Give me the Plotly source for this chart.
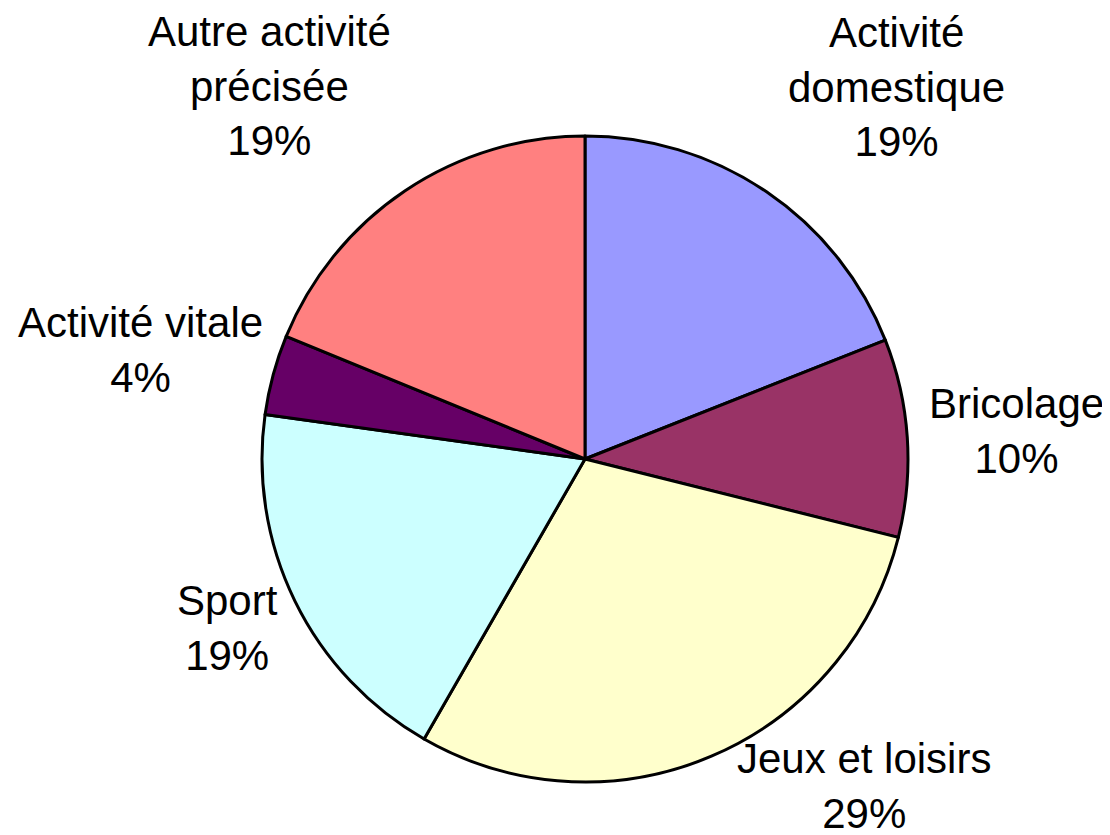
import math
import plotly.graph_objects as go

# activity shares, clockwise from 12 o'clock
labels = ["Activité<br>domestique", "Bricolage", "Jeux et loisirs", "Sport",
          "Activité vitale", "Autre activité<br>précisée"]
values = [19.0, 9.9, 29.4, 18.9, 4.0, 18.8]
colors = ["#9999FF", "#993366", "#FFFFCC", "#CCFFFF", "#660066", "#FF8080"]

# the page body has an 8px margin, so the figure is drawn 8px smaller
W, H = 1102, 827
cx, cy, r = 577, 451, 323  # pie centre / radius in px

fig = go.Figure(go.Pie(
    labels=labels,
    values=values,
    sort=False,
    direction="clockwise",
    rotation=0,
    textinfo="none",
    marker=dict(colors=colors, line=dict(color="black", width=3)),
    hovertemplate="%{label}<br>%{percent:.0%}<extra></extra>",
    domain=dict(x=[(cx - r) / W, (cx + r) / W],
                y=[1 - (cy + r) / H, 1 - (cy - r) / H]),
    showlegend=False,
))

# label placement: distance from centre (px) and angle nudge (deg) per slice
label_dist = [485, 432, 430, 395, 458, 488]
label_nudge = [5.7, 0.0, -17.5, 0.8, -1.4, -6.4]

total = sum(values)
start = 0.0
annotations = []
for i, v in enumerate(values):
    mid = start + v / total * 360 / 2
    start += v / total * 360
    a = math.radians(mid + label_nudge[i])
    px = cx + label_dist[i] * math.sin(a)
    py = cy - label_dist[i] * math.cos(a)
    annotations.append(dict(
        x=px / W, y=1 - py / H, xref="paper", yref="paper",
        text=f"{labels[i]}<br>{round(v / total * 100)}%",
        showarrow=False, xanchor="center", yanchor="middle",
        font=dict(family="Liberation Sans, Arial", size=42, color="black"),
    ))

fig.update_layout(
    width=W, height=H,
    margin=dict(l=0, r=0, t=0, b=0),
    paper_bgcolor="white",
    plot_bgcolor="white",
    annotations=annotations,
)

fig.write_html("out.html")
